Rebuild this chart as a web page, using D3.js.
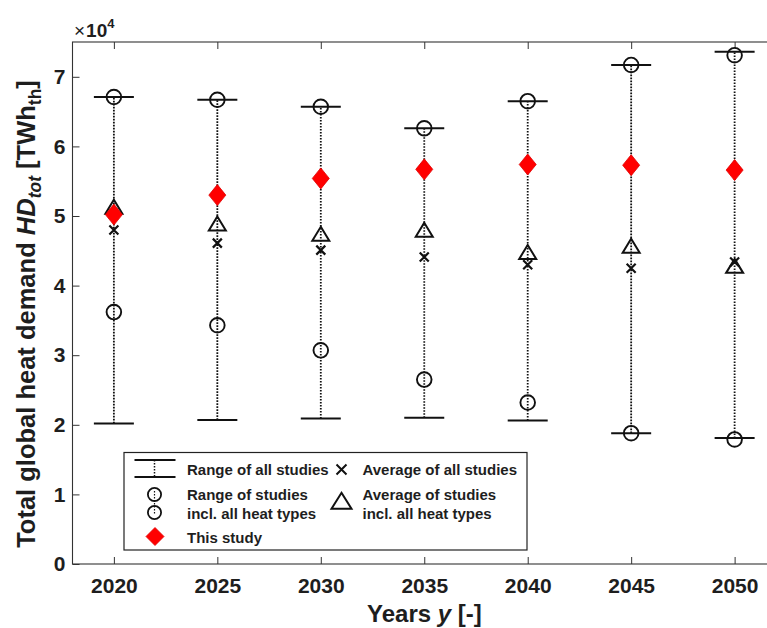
<!DOCTYPE html>
<html>
<head>
<meta charset="utf-8">
<script src="https://cdn.jsdelivr.net/npm/d3@7"></script>
<style>
  html, body { margin: 0; padding: 0; background: #fff; }
  svg { display: block; overflow: hidden; }
  text { font-family: "Liberation Sans", Arial, Helvetica, sans-serif; }
</style>
</head>
<body>
<svg id="chart" width="767" height="628"></svg>
<script>
// Global heat demand projections, values in 10^4 TWh_th
const years      = [2020, 2025, 2030, 2035, 2040, 2045, 2050];
const rangeMin   = [2.02, 2.07, 2.09, 2.10, 2.06, 1.88, 1.81]; // range of all studies
const rangeMax   = [6.71, 6.67, 6.57, 6.26, 6.65, 7.17, 7.36];
const heatMin    = [3.62, 3.43, 3.07, 2.65, 2.32, 1.88, 1.79]; // studies incl. all heat types
const heatMax    = [6.71, 6.67, 6.57, 6.26, 6.65, 7.17, 7.31];
const avgAll     = [4.80, 4.61, 4.51, 4.41, 4.30, 4.25, 4.34];
const avgHeat    = [5.10, 4.86, 4.71, 4.77, 4.45, 4.54, 4.25];
const thisStudy  = [5.02, 5.30, 5.54, 5.67, 5.74, 5.73, 5.66];
const yTicks     = [0, 1, 2, 3, 4, 5, 6, 7];
const legendRows = [
  "Range of all studies", "Average of all studies",
  "Range of studies", "incl. all heat types",
  "Average of studies", "incl. all heat types",
  "This study"
];

const svg = d3.select("#chart");
const mLeft = 72.5, mTop = 42, mBottom = 564, mRight = 776;
const axisColor = "#333";
const textColor = "#1e1e1e";

const x = d3.scaleLinear().domain([2018, 2052]).range([mLeft, mRight]);
const y = d3.scaleLinear().domain([0, 7.5]).range([mBottom, mTop]);

const data = years.map((yr, i) => ({
  yr, lo: rangeMin[i], hi: rangeMax[i], hlo: heatMin[i], hhi: heatMax[i],
  avg: avgAll[i], avgH: avgHeat[i], me: thisStudy[i]
}));

// Axes box
const axes = svg.append("g");
axes.append("rect")
  .attr("x", mLeft).attr("y", mTop)
  .attr("width", mRight - mLeft).attr("height", mBottom - mTop)
  .attr("fill", "none").attr("stroke", axisColor).attr("stroke-width", 1.1);

const tickFont = g => g.selectAll("text")
  .attr("font-size", 21).attr("font-weight", "bold").attr("fill", textColor);

// Bottom axis, ticks pointing inward
const xAxis = d3.axisBottom(x).tickValues(years).tickFormat(d3.format("d"))
  .tickSizeInner(-7).tickSizeOuter(0).tickPadding(14.5);
axes.append("g").attr("transform", `translate(0,${mBottom})`).call(xAxis)
  .call(g => g.select(".domain").remove())
  .call(g => g.selectAll("line").attr("stroke", axisColor))
  .call(tickFont);

// Top axis mirror ticks
const xTop = d3.axisTop(x).tickValues(years).tickFormat("")
  .tickSizeInner(-7).tickSizeOuter(0);
axes.append("g").attr("transform", `translate(0,${mTop})`).call(xTop)
  .call(g => g.select(".domain").remove())
  .call(g => g.selectAll("line").attr("stroke", axisColor));

// Left axis
const yAxis = d3.axisLeft(y).tickValues(yTicks).tickFormat(d3.format("d"))
  .tickSizeInner(-7).tickSizeOuter(0).tickPadding(7);
axes.append("g").attr("transform", `translate(${mLeft},0)`).call(yAxis)
  .call(g => g.select(".domain").remove())
  .call(g => g.selectAll("line").attr("stroke", axisColor))
  .call(tickFont);

// Exponent label
const expo = svg.append("text").attr("x", 74).attr("y", 37)
  .attr("font-size", 19).attr("fill", textColor);
expo.append("tspan").text("\u00d7").attr("font-weight", "normal");
expo.append("tspan").text("10").attr("font-weight", "bold").attr("dx", 1);
expo.append("tspan").text("4").attr("font-weight", "bold")
  .attr("font-size", 13).attr("dy", -9);

// Axis titles
svg.append("text")
  .attr("x", 367).attr("y", 622)
  .attr("font-size", 24).attr("font-weight", "bold")
  .attr("fill", textColor)
  .call(t => {
    t.append("tspan").text("Years ");
    t.append("tspan").text("y").attr("font-style", "italic");
    t.append("tspan").text(" [-]");
  });

svg.append("text")
  .attr("transform", `translate(35,314) rotate(-90)`)
  .attr("text-anchor", "middle").attr("font-size", 25.5).attr("font-weight", "bold")
  .attr("fill", textColor)
  .call(t => {
    t.append("tspan").text("Total global heat demand ");
    t.append("tspan").text("HD").attr("font-style", "italic");
    t.append("tspan").text("tot").attr("font-style", "italic")
      .attr("font-size", 17.5).attr("dy", 6);
    t.append("tspan").text(" [TWh").attr("dy", -6);
    t.append("tspan").text("th").attr("font-size", 17.5).attr("dy", 6);
    t.append("tspan").text("]").attr("dy", -6);
  });

// Marks
const plot = svg.append("g");
const capHalf = 20;
const ink = "#111";

// Dotted range lines
plot.selectAll("line.range").data(data).join("line")
  .attr("class", "range")
  .attr("x1", d => x(d.yr)).attr("x2", d => x(d.yr))
  .attr("y1", d => y(d.lo)).attr("y2", d => y(d.hi))
  .attr("stroke", ink).attr("stroke-width", 1.8)
  .attr("stroke-dasharray", "1.6,1.4");

// Caps
["lo", "hi"].forEach(k => {
  plot.selectAll("line.cap-" + k).data(data).join("line")
    .attr("class", "cap-" + k)
    .attr("x1", d => x(d.yr) - capHalf).attr("x2", d => x(d.yr) + capHalf)
    .attr("y1", d => y(d[k])).attr("y2", d => y(d[k]))
    .attr("stroke", ink).attr("stroke-width", 2);
});

// Circles for the heat-type range
["hlo", "hhi"].forEach(k => {
  plot.selectAll("circle.c-" + k).data(data).join("circle")
    .attr("class", "c-" + k)
    .attr("cx", d => x(d.yr)).attr("cy", d => y(d[k])).attr("r", 7.3)
    .attr("fill", "none").attr("stroke", ink).attr("stroke-width", 1.9);
});

// Averages of all studies (x marks)
const crossPath = s => `M${-s},${-s}L${s},${s}M${-s},${s}L${s},${-s}`;
plot.selectAll("path.avg").data(data).join("path")
  .attr("class", "avg")
  .attr("transform", d => `translate(${x(d.yr)},${y(d.avg)})`)
  .attr("d", crossPath(4.5))
  .attr("stroke", ink).attr("stroke-width", 2.2).attr("fill", "none");

// Averages of studies incl. all heat types (triangles)
const triPath = (w, h) => `M0,${-h * 2 / 3}L${w / 2},${h / 3}L${-w / 2},${h / 3}Z`;
plot.selectAll("path.avgh").data(data).join("path")
  .attr("class", "avgh")
  .attr("transform", d => `translate(${x(d.yr)},${y(d.avgH)})`)
  .attr("d", triPath(17, 14))
  .attr("stroke", ink).attr("stroke-width", 2).attr("fill", "none")
  .attr("stroke-linejoin", "miter");

// This study (red diamonds)
const diamond = (w, h) => `M0,${-h / 2}L${w / 2},0L0,${h / 2}L${-w / 2},0Z`;
plot.selectAll("path.me").data(data).join("path")
  .attr("class", "me")
  .attr("transform", d => `translate(${x(d.yr)},${y(d.me)})`)
  .attr("d", diamond(17, 21))
  .attr("fill", "#ff0000").attr("stroke", "#e00000").attr("stroke-width", 0.8);

// Legend
const lg = svg.append("g");
lg.append("rect").attr("x", 124).attr("y", 452.5).attr("width", 403).attr("height", 97.5)
  .attr("fill", "#fff").attr("stroke", "#222").attr("stroke-width", 1.2);

const lgText = (str, tx, ty) => lg.append("text").attr("x", tx).attr("y", ty)
  .attr("font-size", 15).attr("font-weight", "bold").attr("fill", textColor).text(str);

// Row 1: range line
lg.append("line").attr("x1", 134.5).attr("x2", 175.5).attr("y1", 460).attr("y2", 460)
  .attr("stroke", ink).attr("stroke-width", 1.8);
lg.append("line").attr("x1", 134.5).attr("x2", 175.5).attr("y1", 477).attr("y2", 477)
  .attr("stroke", ink).attr("stroke-width", 1.8);
lg.append("line").attr("x1", 154.5).attr("x2", 154.5).attr("y1", 460).attr("y2", 477)
  .attr("stroke", ink).attr("stroke-width", 1.5).attr("stroke-dasharray", "1.5,1.5");
lgText(legendRows[0], 187, 475);
lg.append("path").attr("transform", "translate(341.5,469.5)").attr("d", crossPath(5))
  .attr("stroke", ink).attr("stroke-width", 2);
lgText(legendRows[1], 362.5, 475);

// Row 2: circles and triangle
lg.append("circle").attr("cx", 154.5).attr("cy", 494.5).attr("r", 6.6)
  .attr("fill", "none").attr("stroke", ink).attr("stroke-width", 1.8);
lg.append("circle").attr("cx", 154.5).attr("cy", 512.5).attr("r", 6.6)
  .attr("fill", "none").attr("stroke", ink).attr("stroke-width", 1.8);
lg.append("line").attr("x1", 154.5).attr("x2", 154.5).attr("y1", 491).attr("y2", 515)
  .attr("stroke", ink).attr("stroke-width", 1.2).attr("stroke-dasharray", "1.5,1.5");
lgText(legendRows[2], 187, 500);
lgText(legendRows[3], 187, 518.5);
lg.append("path").attr("transform", "translate(341.5,503.5)").attr("d", triPath(20, 16))
  .attr("stroke", ink).attr("stroke-width", 2).attr("fill", "none");
lgText(legendRows[4], 362.5, 500);
lgText(legendRows[5], 362.5, 518.5);

// Row 3: diamond
lg.append("path").attr("transform", "translate(155,536.5)").attr("d", diamond(18, 18))
  .attr("fill", "#ff0000").attr("stroke", "#e00000").attr("stroke-width", 0.8);
lgText(legendRows[6], 187, 542.5);
</script>
</body>
</html>
